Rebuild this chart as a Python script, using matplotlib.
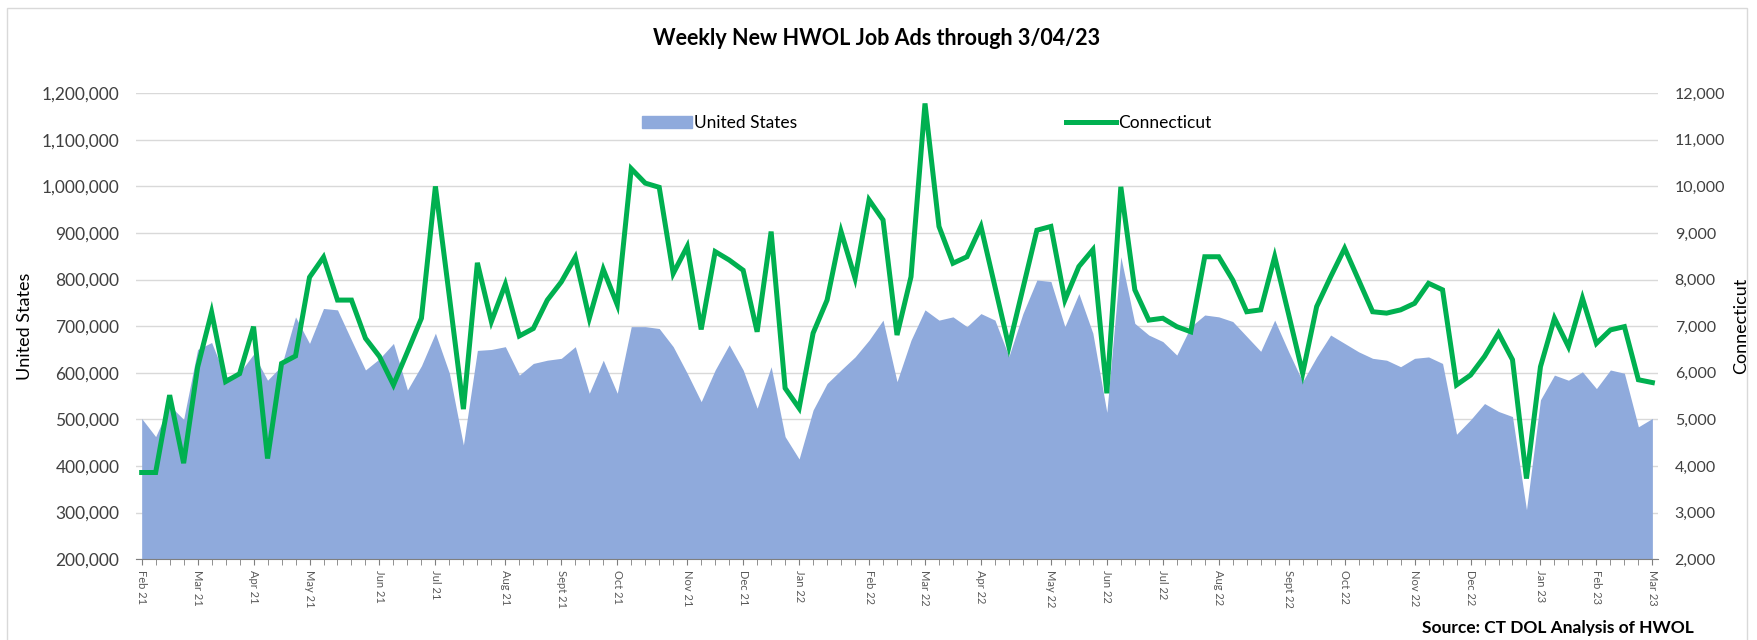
import matplotlib
matplotlib.use('Agg')
import matplotlib.pyplot as plt
import matplotlib.patches as mpatches
from matplotlib.lines import Line2D
from matplotlib.ticker import FuncFormatter, FixedLocator, MultipleLocator

plt.rcParams['font.family'] = ['Lato', 'DejaVu Sans']

# weekly new job ads, Feb 2021 - Mar 4 2023
us_ads = [502000, 463000, 530000, 500000, 650000, 665000, 590000, 600000, 640000, 584000,
          615000, 720000, 663000, 738000, 735000, 670000, 606000, 630000, 663000, 563000,
          615000, 685000, 599000, 445000, 648000, 650000, 656000, 595000, 620000, 627000,
          631000, 656000, 556000, 627000, 556000, 699000, 699000, 695000, 656000, 599000,
          538000, 606000, 660000, 606000, 524000, 613000, 463000, 415000, 520000, 577000,
          606000, 634000, 670000, 713000, 581000, 670000, 735000, 713000, 720000, 699000,
          727000, 713000, 635000, 727000, 799000, 796000, 699000, 770000, 685000, 515000,
          849000, 706000, 681000, 667000, 638000, 699000, 724000, 720000, 710000, 678000,
          646000, 713000, 645000, 581000, 634000, 681000, 663000, 645000, 631000, 627000,
          613000, 631000, 634000, 620000, 468000, 499000, 534000, 517000, 506000, 306000,
          542000, 595000, 584000, 602000, 566000, 606000, 599000, 484000, 502000]

ct_ads = [3860, 3860, 5520, 4060, 6120, 7300, 5810, 5980, 6990, 4160,
          6200, 6360, 8050, 8480, 7560, 7560, 6740, 6350, 5740, 6450,
          7170, 10000, 7630, 5220, 8360, 7100, 7900, 6790, 6950, 7560,
          7950, 8480, 7170, 8220, 7460, 10380, 10070, 9980, 8130, 8710,
          6930, 8600, 8420, 8200, 6880, 9030, 5670, 5240, 6850, 7560,
          9030, 8030, 9710, 9280, 6810, 8060, 11780, 9140, 8350, 8490,
          9140, 7850, 6560, 7810, 9060, 9140, 7560, 8280, 8640, 5560,
          9990, 7780, 7130, 7170, 6990, 6880, 8490, 8490, 7990, 7310,
          7350, 8490, 7250, 5990, 7420, 8060, 8670, 7990, 7310, 7280,
          7350, 7490, 7920, 7780, 5740, 5950, 6350, 6850, 6280, 3730,
          6130, 7170, 6560, 7600, 6630, 6920, 6990, 5850, 5790]

month_labels = ['Feb 21', 'Mar 21', 'Apr 21', 'May 21', 'Jun 21', 'Jul 21', 'Aug 21',
                'Sept 21', 'Oct 21', 'Nov 21', 'Dec 21', 'Jan 22', 'Feb 22', 'Mar 22',
                'Apr 22', 'May 22', 'Jun 22', 'Jul 22', 'Aug 22', 'Sept 22', 'Oct 22',
                'Nov 22', 'Dec 22', 'Jan 23', 'Feb 23', 'Mar 23']
month_weeks = [0, 4, 8, 12, 17, 21, 26, 30, 34, 39, 43, 47, 52, 56, 60, 65, 69, 73,
               77, 82, 86, 91, 95, 100, 104, 108]

weeks = list(range(len(us_ads)))

area_color = '#8FAADC'
line_color = '#00B050'
text_color = '#404040'

fig = plt.figure(figsize=(17.58, 6.4), dpi=100)
fig.patches.append(mpatches.Rectangle((7 / 1758, -0.02), 1740 / 1758, 1.0 - 8 / 640 + 0.02,
                                      transform=fig.transFigure, fill=False,
                                      edgecolor='#D9D9D9', linewidth=1))

ax = fig.add_axes([0.0774, 0.1263, 0.8657, 0.7281])
ax.fill_between(weeks, us_ads, 0, color=area_color, linewidth=0, zorder=2)
ax.set_ylim(200000, 1200000)
ax.set_xlim(-0.4, 108.4)
ax.yaxis.set_major_locator(MultipleLocator(100000))
ax.yaxis.set_major_formatter(FuncFormatter(lambda v, p: f'{int(v):,}'))
ax.grid(axis='y', color='#D9D9D9', linewidth=1)
ax.set_axisbelow(True)

ax.xaxis.set_major_locator(FixedLocator(month_weeks))
ax.set_xticklabels(month_labels, rotation=270, fontsize=8, color='#595959')
ax.xaxis.set_minor_locator(FixedLocator(weeks))
ax.tick_params(axis='x', which='both', length=4, color='#7F7F7F', pad=4)
ax.tick_params(axis='y', length=0, pad=12, labelsize=12.5, labelcolor=text_color)

for s in ['top', 'left', 'right']:
    ax.spines[s].set_visible(False)
ax.spines['bottom'].set_color('#7F7F7F')
ax.spines['bottom'].set_zorder(3)

ax.set_ylabel('United States', fontsize=13, color='black')
ax.yaxis.set_label_coords(-0.068, 0.5)

ax2 = ax.twinx()
ax2.plot(weeks, ct_ads, color=line_color, linewidth=3.6, solid_joinstyle='miter', zorder=4)
ax2.set_ylim(2000, 12000)
ax2.yaxis.set_major_locator(MultipleLocator(1000))
ax2.yaxis.set_major_formatter(FuncFormatter(lambda v, p: f'{int(v):,}'))
ax2.tick_params(axis='y', length=0, pad=12, labelsize=11.5, labelcolor=text_color)
for s in ['top', 'left', 'right', 'bottom']:
    ax2.spines[s].set_visible(False)

# right axis title placed directly so it stays inside the canvas
fig.text(1741 / 1758, 0.1263 + 0.7281 / 2, 'Connecticut', rotation=90,
         ha='center', va='center', fontsize=13, color='black')

handles = [mpatches.Patch(color=area_color, label='United States'),
           Line2D([0], [0], color=line_color, linewidth=3.6, label='Connecticut')]
fig.legend(handles=handles, loc='center', bbox_to_anchor=(0.527, 0.808), ncol=2,
           frameon=False, fontsize=12.5, columnspacing=15.5, handlelength=2.9,
           handletextpad=0.1)

fig.text(0.4985, 1 - 38.8 / 640, 'Weekly New HWOL Job Ads through 3/04/23',
         ha='center', va='center', fontsize=15.5, fontweight='bold', color='black')
fig.text(1694 / 1758, 1 - 628 / 640, 'Source: CT DOL Analysis of HWOL',
         ha='right', va='center', fontsize=12.5, fontweight='bold', color='black')

fig.savefig('out.png', dpi=100)
